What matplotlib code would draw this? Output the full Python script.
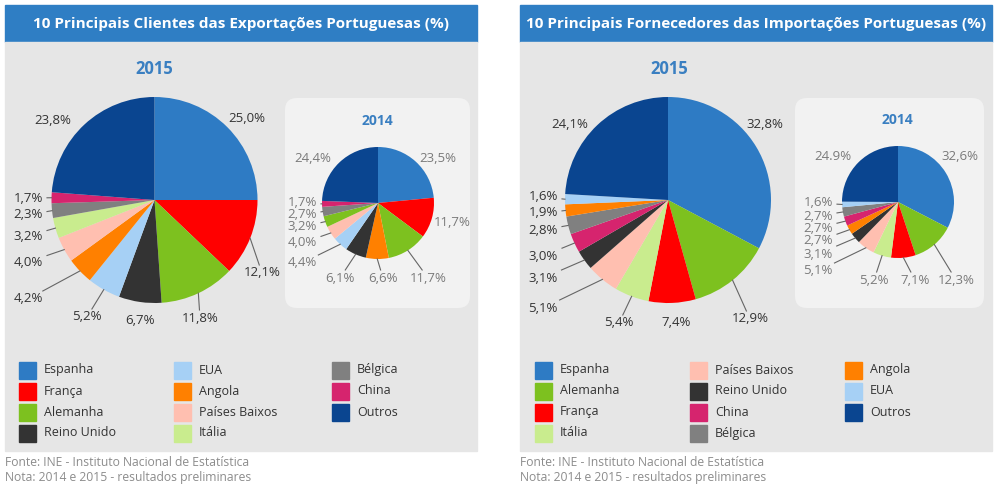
import numpy as np
import matplotlib.pyplot as plt
from matplotlib.patches import Rectangle, FancyBboxPatch

plt.rcParams['font.family'] = ['Open Sans', 'DejaVu Sans']

# cores por país
cores = {
    'Espanha': '#2e7bc4', 'França': '#ff0000', 'Alemanha': '#7dc11f',
    'Reino Unido': '#333333', 'EUA': '#a6d0f5', 'Angola': '#ff8000',
    'Países Baixos': '#ffbfb0', 'Itália': '#c9ec8e', 'Bélgica': '#808080',
    'China': '#d6246e', 'Outros': '#0a4590',
}

# exportações 2015
exp15_paises = ['Espanha', 'França', 'Alemanha', 'Reino Unido', 'EUA', 'Angola',
                'Países Baixos', 'Itália', 'Bélgica', 'China', 'Outros']
exp15_valores = [25.0, 12.1, 11.8, 6.7, 5.2, 4.2, 4.0, 3.2, 2.3, 1.7, 23.8]
exp15_rotulos = ['25,0%', '12,1%', '11,8%', '6,7%', '5,2%', '4,2%', '4,0%',
                 '3,2%', '2,3%', '1,7%', '23,8%']

# exportações 2014
exp14_paises = ['Espanha', 'França', 'Alemanha', 'Angola', 'Reino Unido', 'EUA',
                'Países Baixos', 'Alemanha', 'Bélgica', 'China', 'Outros']
exp14_valores = [23.5, 11.7, 11.7, 6.6, 6.1, 4.4, 4.0, 3.2, 2.7, 1.7, 24.4]
exp14_rotulos = ['23,5%', '11,7%', '11,7%', '6,6%', '6,1%', '4,4%', '4,0%',
                 '3,2%', '2,7%', '1,7%', '24,4%']

# importações 2015
imp15_paises = ['Espanha', 'Alemanha', 'França', 'Itália', 'Países Baixos',
                'Reino Unido', 'China', 'Bélgica', 'Angola', 'EUA', 'Outros']
imp15_valores = [32.8, 12.9, 7.4, 5.4, 5.1, 3.1, 3.0, 2.8, 1.9, 1.6, 24.1]
imp15_rotulos = ['32,8%', '12,9%', '7,4%', '5,4%', '5,1%', '3,1%', '3,0%',
                 '2,8%', '1,9%', '1,6%', '24,1%']

# importações 2014
imp14_paises = ['Espanha', 'Alemanha', 'França', 'Itália', 'Países Baixos',
                'Reino Unido', 'Angola', 'China', 'Bélgica', 'EUA', 'Outros']
imp14_valores = [32.6, 12.3, 7.1, 5.2, 5.1, 3.1, 2.7, 2.7, 2.7, 1.6, 24.9]
imp14_rotulos = ['32,6%', '12,3%', '7,1%', '5,2%', '5,1%', '3,1%', '2,7%',
                 '2,7%', '2,7%', '1,6%', '24.9%']

legenda_exp = [['Espanha', 'França', 'Alemanha', 'Reino Unido'],
               ['EUA', 'Angola', 'Países Baixos', 'Itália'],
               ['Bélgica', 'China', 'Outros']]
legenda_imp = [['Espanha', 'Alemanha', 'França', 'Itália'],
               ['Países Baixos', 'Reino Unido', 'China', 'Bélgica'],
               ['Angola', 'EUA', 'Outros']]

W, H = 999, 488
fig = plt.figure(figsize=(W / 100, H / 100), dpi=100)
ax = fig.add_axes([0, 0, 1, 1])


def Y(py):
    return H - py


def desenha_pie(paises, valores, rotulos, cx, cy, r, pos_rot, linhas, cor_txt):
    wedges, _ = ax.pie(valores, colors=[cores[p] for p in paises], startangle=90,
                       counterclock=False, radius=r, center=(cx, Y(cy)),
                       frame=True, wedgeprops=dict(linewidth=0, zorder=3))
    for w, txt, (tx, ty), lin in zip(wedges, rotulos, pos_rot, linhas):
        ax.text(tx, Y(ty), txt, ha='center', va='center', fontsize=9.5,
                color=cor_txt, zorder=5)
        if not lin:
            continue
        ang = np.deg2rad((w.theta1 + w.theta2) / 2)
        ex, ey = cx + r * np.cos(ang), Y(cy) + r * np.sin(ang)
        dx, dy = ex - tx, ey - Y(ty)
        t = min(19 / max(abs(dx), 1e-6), 8 / max(abs(dy), 1e-6))
        ax.plot([tx + t * dx, ex], [Y(ty) + t * dy, ey], color='#666666',
                lw=0.8, zorder=4)


def painel(x0, titulo, legenda, col_x, caixa_x, caixa_w):
    ax.add_patch(Rectangle((x0, Y(42)), 472, 37, color='#2f7ec4', zorder=1))
    ax.add_patch(Rectangle((x0, Y(451)), 472, 409, color='#e6e6e6', zorder=1))
    ax.text(x0 + 236, Y(24), titulo, ha='center', va='center', fontsize=11,
            fontweight='bold', color='white', zorder=2)
    ax.add_patch(FancyBboxPatch((x0 + caixa_x, Y(308)), caixa_w, 210,
                                boxstyle='round,pad=0,rounding_size=12',
                                fc='#f2f2f2', ec='none', zorder=2))
    for cx_, col in zip(col_x, legenda):
        for i, nome in enumerate(col):
            yc = 370 + 21 * i
            ax.add_patch(Rectangle((x0 + cx_, Y(yc + 8.5)), 17, 17,
                                   color=cores[nome], zorder=2))
            ax.text(x0 + cx_ + 25, Y(yc), nome, ha='left', va='center',
                    fontsize=9, color='#333333', zorder=2)
    ax.text(x0, Y(463), 'Fonte: INE - Instituto Nacional de Estatística',
            fontsize=8.7, color='#8c8c8c', va='center', ha='left')
    ax.text(x0, Y(477), 'Nota: 2014 e 2015 - resultados preliminares',
            fontsize=8.7, color='#8c8c8c', va='center', ha='left')


painel(5, '10 Principais Clientes das Exportações Portuguesas (%)', legenda_exp,
       [14, 169, 327], 280, 185)
painel(520, '10 Principais Fornecedores das Importações Portuguesas (%)',
       legenda_imp, [15, 170, 325], 275, 189)

ax.text(154, Y(69), '2015', ha='center', va='center', fontsize=12,
        fontweight='bold', color='#3a7fc1', zorder=5)
ax.text(377, Y(121), '2014', ha='center', va='center', fontsize=10,
        fontweight='bold', color='#3a7fc1', zorder=5)
ax.text(669, Y(69), '2015', ha='center', va='center', fontsize=12,
        fontweight='bold', color='#3a7fc1', zorder=5)
ax.text(897, Y(120), '2014', ha='center', va='center', fontsize=10,
        fontweight='bold', color='#3a7fc1', zorder=5)

desenha_pie(exp15_paises, exp15_valores, exp15_rotulos, 154.5, 200, 103,
            [(247, 119), (262, 273), (200, 318), (140, 320), (87, 317),
             (28, 299), (28, 262), (28, 236), (28, 215), (28, 198), (53, 121)],
            [0, 1, 1, 0, 1, 1, 1, 1, 1, 1, 0], '#333333')
desenha_pie(exp14_paises, exp14_valores, exp14_rotulos, 378, 203, 56,
            [(438, 159), (452, 223), (428, 278), (383, 278), (340, 278),
             (302, 263), (302, 243), (302, 227), (302, 215), (302, 203), (313, 159)],
            [0, 0, 1, 1, 1, 1, 1, 1, 1, 1, 0], '#7a7a7a')
desenha_pie(imp15_paises, imp15_valores, imp15_rotulos, 668, 200, 103,
            [(765, 124), (750, 319), (676, 323), (619, 323), (543, 308),
             (543, 278), (543, 256), (543, 230), (543, 213), (543, 197), (570, 124)],
            [0, 1, 0, 1, 1, 1, 1, 1, 1, 1, 0], '#333333')
desenha_pie(imp14_paises, imp14_valores, imp14_rotulos, 898, 202, 56,
            [(960, 156), (956, 280), (915, 280), (874, 280), (818, 271),
             (818, 254), (818, 241), (818, 228), (818, 216), (818, 203), (833, 156)],
            [0, 1, 1, 1, 1, 1, 1, 1, 1, 1, 0], '#7a7a7a')

ax.set_xlim(0, W)
ax.set_ylim(0, H)
ax.axis('off')
fig.savefig('out.png', dpi=100, facecolor='white')
